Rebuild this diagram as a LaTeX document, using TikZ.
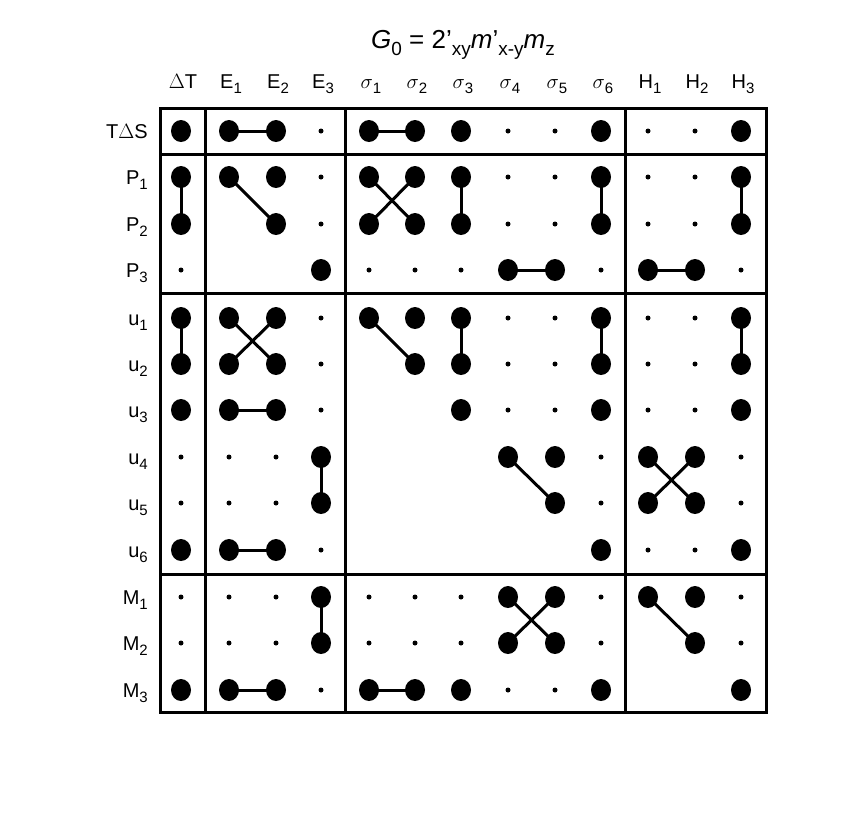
\documentclass[tikz,border=0pt]{standalone}
\usepackage{fontspec}
\setmainfont{Liberation Sans}
\begin{document}
\begin{tikzpicture}[x=1pt,y=-1pt,
  big/.style={fill=black,draw=none},
  conn/.style={line width=3pt},
  frame/.style={line width=3pt},
  lab/.style={font=\fontsize{20}{20}\selectfont,inner sep=0pt}]
\useasboundingbox (0,0) rectangle (856,812);
\newcommand{\sbx}[1]{\raisebox{-0.5ex}{\fontsize{15}{15}\selectfont #1}}
\def\cx{{181,229,276,321,369,415,461,508,555,601,648,695,741}}
\def\ry{{131,177,224,270,318,364,410,457,503,550,597,643,690}}
% coordinates
\foreach \r in {1,...,13}{
  \foreach \i in {1,...,13}{
    \pgfmathsetmacro\xx{\cx[\i-1]}
    \pgfmathsetmacro\yy{\ry[\r-1]}
    \coordinate (p-\r-\i) at (\xx,\yy);
  }
}
% title
\node[inner sep=0pt,font=\fontsize{26}{26}\selectfont] (title) at (463,45)
 {\textit{G}\raisebox{-0.5ex}{\fontsize{19}{19}\selectfont 0} = 2'\raisebox{-0.5ex}{\fontsize{19}{19}\selectfont xy}\textit{m}'\raisebox{-0.5ex}{\fontsize{19}{19}\selectfont x\hbox{-}y}\textit{m}\raisebox{-0.5ex}{\fontsize{19}{19}\selectfont z}};
% header
\foreach \t [count=\i] in {$\Delta$T,E\sbx{1},E\sbx{2},E\sbx{3},$\sigma$\sbx{1},$\sigma$\sbx{2},$\sigma$\sbx{3},$\sigma$\sbx{4},$\sigma$\sbx{5},$\sigma$\sbx{6},H\sbx{1},H\sbx{2},H\sbx{3}}{
  \pgfmathsetmacro\xx{\cx[\i-1]}
  \node[lab,anchor=base] (h\i) at (\xx+2,88) {\t};
}
% row labels
\foreach \t [count=\r] in {T$\Delta$S,P\sbx{1},P\sbx{2},P\sbx{3},u\sbx{1},u\sbx{2},u\sbx{3},u\sbx{4},u\sbx{5},u\sbx{6},M\sbx{1},M\sbx{2},M\sbx{3}}{
  \pgfmathsetmacro\yy{\ry[\r-1]}
  \node[lab,anchor=base east] (l\r) at (148,\yy+7) {\t};
}
% frames
\draw[frame] (160,108) rectangle (766,712);
\draw[frame] (205,108) -- (205,712) (345,108) -- (345,712) (625,108) -- (625,712);
\draw[frame] (160,154) -- (766,154) (160,293) -- (766,293) (160,574) -- (766,574);
% connectors
\foreach \a/\b in {1-2/1-3,1-5/1-6,
 2-1/3-1,2-2/3-3,2-5/3-6,2-6/3-5,2-7/3-7,2-10/3-10,2-13/3-13,
 4-8/4-9,4-11/4-12,
 5-1/6-1,5-2/6-3,5-3/6-2,5-5/6-6,5-7/6-7,5-10/6-10,5-13/6-13,
 7-2/7-3,
 8-4/9-4,8-8/9-9,8-11/9-12,8-12/9-11,
 10-2/10-3,
 11-4/12-4,11-8/12-9,11-9/12-8,11-11/12-12,
 13-2/13-3,13-5/13-6}{
  \draw[conn] (p-\a) -- (p-\b);
}
% dots
\foreach \row [count=\r] in {
 {2,2,2,1,2,2,2,1,1,2,1,1,2},
 {2,2,2,1,2,2,2,1,1,2,1,1,2},
 {2,0,2,1,2,2,2,1,1,2,1,1,2},
 {1,0,0,2,1,1,1,2,2,1,2,2,1},
 {2,2,2,1,2,2,2,1,1,2,1,1,2},
 {2,2,2,1,0,2,2,1,1,2,1,1,2},
 {2,2,2,1,0,0,2,1,1,2,1,1,2},
 {1,1,1,2,0,0,0,2,2,1,2,2,1},
 {1,1,1,2,0,0,0,0,2,1,2,2,1},
 {2,2,2,1,0,0,0,0,0,2,1,1,2},
 {1,1,1,2,1,1,1,2,2,1,2,2,1},
 {1,1,1,2,1,1,1,2,2,1,0,2,1},
 {2,2,2,1,2,2,2,1,1,2,0,0,2}}{
  \foreach \c [count=\i] in \row {
    \ifnum\c=2 \fill[big] (p-\r-\i) ellipse (10 and 11);\fi
    \ifnum\c=1 \fill[big] (p-\r-\i) circle (2.5);\fi
  }
}
\end{tikzpicture}
\end{document}
